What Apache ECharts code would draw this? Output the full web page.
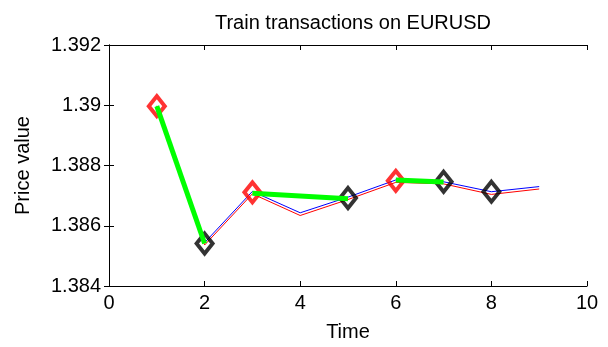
<!DOCTYPE html>
<html>
<head>
<meta charset="utf-8">
<script src="https://cdn.jsdelivr.net/npm/echarts@6/dist/echarts.min.js"></script>
<style>
  html, body { margin: 0; padding: 0; background: #fff; }
  #chart { width: 608px; height: 347px; }
</style>
</head>
<body>
<div id="chart"></div>
<script>
// Price samples over time
const times = [1, 2, 3, 4, 5, 6, 7, 8, 9];
const askPrice = [1.38998, 1.38544, 1.38714, 1.38643, 1.38695, 1.38752, 1.38746, 1.38713, 1.38730];
const bidPrice = [1.38995, 1.38536, 1.38706, 1.38634, 1.38687, 1.38744, 1.38739, 1.38704, 1.38722];

// Trade entries (red) and exits (black)
const entryTimes = [1, 3, 6];
const entryPrices = [1.38997, 1.38711, 1.38749];
const exitTimes = [2, 5, 7, 8];
const exitPrices = [1.38541, 1.38692, 1.38746, 1.38713];

// Executed trades: open -> close
const tradeOpenT = [1, 3, 6];
const tradeOpenP = [1.38997, 1.38708, 1.38752];
const tradeCloseT = [2, 5, 7];
const tradeCloseP = [1.38541, 1.38690, 1.38745];

const xTicks = [0, 2, 4, 6, 8, 10];
const yTicks = [1.384, 1.386, 1.388, 1.39, 1.392];

const FONT = "'Liberation Sans', Arial, Helvetica, sans-serif";
const zip = (a, b) => a.map((v, i) => [v, b[i]]);

const chart = echarts.init(document.getElementById('chart'), null, { renderer: 'canvas' });

const tradeSeries = tradeOpenT.map((t, i) => ({
  type: 'line',
  data: [[t, tradeOpenP[i]], [tradeCloseT[i], tradeCloseP[i]]],
  symbol: 'none',
  lineStyle: { color: '#00ff00', width: 5 },
  z: 5,
  silent: true
}));

const axisCommon = {
  axisLine: { show: true, lineStyle: { color: '#000', width: 1 } },
  axisTick: { show: true, inside: true, length: 5, lineStyle: { color: '#000' } },
  splitLine: { show: false }
};

chart.setOption({
  animation: false,
  backgroundColor: '#fff',
  title: {
    text: 'Train transactions on EURUSD',
    left: 348, top: 8, textAlign: 'center',
    textStyle: { fontFamily: FONT, fontSize: 20, fontWeight: 'normal', color: '#000' }
  },
  grid: { left: 109, right: 21, top: 45, bottom: 56 },
  xAxis: [
    Object.assign({
      type: 'value', min: xTicks[0], max: xTicks[xTicks.length - 1], interval: 2,
      name: 'Time', nameLocation: 'middle', nameGap: 36,
      nameTextStyle: { fontFamily: FONT, fontSize: 20, color: '#000' },
      axisLabel: { fontFamily: FONT, fontSize: 20, color: '#000', margin: 7 }
    }, axisCommon),
    Object.assign({
      type: 'value', position: 'top', min: xTicks[0], max: xTicks[xTicks.length - 1], interval: 2,
      axisLabel: { show: false }
    }, axisCommon)
  ],
  yAxis: [
    Object.assign({
      type: 'value', min: yTicks[0], max: yTicks[yTicks.length - 1], interval: 0.002,
      name: 'Price value', nameLocation: 'middle', nameGap: 76, nameRotate: 90,
      nameTextStyle: { fontFamily: FONT, fontSize: 20, color: '#000' },
      axisLabel: {
        fontFamily: FONT, fontSize: 20, color: '#000', margin: 8,
        formatter: v => String(+(+v).toFixed(3))
      }
    }, axisCommon),
    Object.assign({
      type: 'value', position: 'right', min: yTicks[0], max: yTicks[yTicks.length - 1], interval: 0.002,
      axisLabel: { show: false }
    }, axisCommon)
  ],
  series: [
    {
      type: 'line', data: zip(times, askPrice), symbol: 'none',
      lineStyle: { color: '#0000ff', width: 1 }, z: 2, silent: true
    },
    {
      type: 'line', data: zip(times, bidPrice), symbol: 'none',
      lineStyle: { color: '#ff0000', width: 1 }, z: 2, silent: true
    },
    {
      type: 'scatter', data: zip(entryTimes, entryPrices),
      symbol: 'diamond', symbolSize: [16, 20],
      itemStyle: { color: 'rgba(0,0,0,0)', borderColor: '#ff0000', borderWidth: 4 },
      z: 4, silent: true
    },
    {
      type: 'scatter', data: zip(exitTimes, exitPrices),
      symbol: 'diamond', symbolSize: [16, 20],
      itemStyle: { color: 'rgba(0,0,0,0)', borderColor: '#000000', borderWidth: 4 },
      z: 4, silent: true
    }
  ].concat(tradeSeries)
});
</script>
</body>
</html>
